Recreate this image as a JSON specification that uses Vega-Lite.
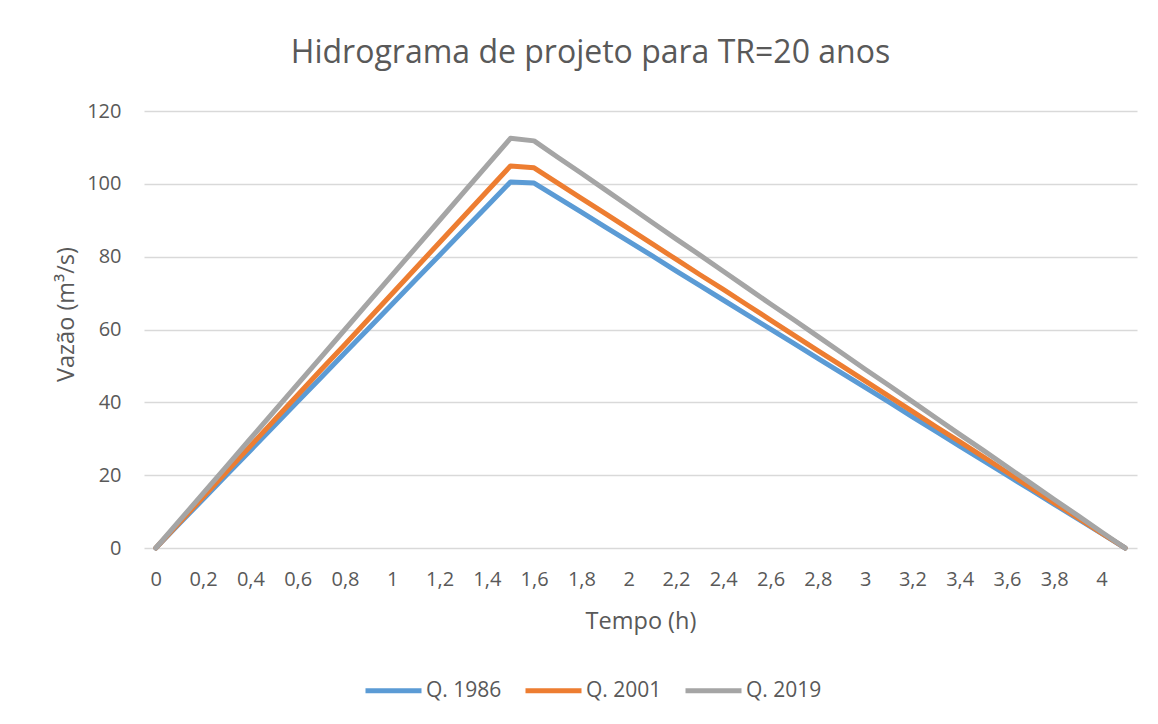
{
  "$schema": "https://vega.github.io/schema/vega-lite/v6.json",
  "width": 993,
  "height": 437,
  "autosize": {"type": "none"},
  "padding": {"left": 144, "top": 111, "right": 21, "bottom": 176},
  "background": "white",
  "config": {"view": {"stroke": null}, "font": "Open Sans"},
  "title": {"text": "Hidrograma de projeto para TR=20 anos", "fontSize": 32, "fontWeight": "normal", "color": "#595959", "offset": 31, "dx": -50, "font": "Open Sans"},
  "data": {"values": [
    {"t": "0", "q1986": 0, "q2001": 0, "q2019": 0},
    {"t": "0,1", "q1986": 6.7, "q2001": 7.0, "q2019": 7.5},
    {"t": "0,2", "q1986": 13.4, "q2001": 14.0, "q2019": 15.0},
    {"t": "0,3", "q1986": 20.1, "q2001": 21.0, "q2019": 22.5},
    {"t": "0,4", "q1986": 26.8, "q2001": 28.0, "q2019": 30.0},
    {"t": "0,5", "q1986": 33.5, "q2001": 35.0, "q2019": 37.5},
    {"t": "0,6", "q1986": 40.2, "q2001": 42.0, "q2019": 45.0},
    {"t": "0,7", "q1986": 46.9, "q2001": 49.0, "q2019": 52.5},
    {"t": "0,8", "q1986": 53.6, "q2001": 55.9, "q2019": 60.0},
    {"t": "0,9", "q1986": 60.3, "q2001": 62.9, "q2019": 67.5},
    {"t": "1", "q1986": 67.0, "q2001": 69.9, "q2019": 75.0},
    {"t": "1,1", "q1986": 73.7, "q2001": 76.9, "q2019": 82.5},
    {"t": "1,2", "q1986": 80.4, "q2001": 83.9, "q2019": 90.0},
    {"t": "1,3", "q1986": 87.1, "q2001": 90.9, "q2019": 97.5},
    {"t": "1,4", "q1986": 93.8, "q2001": 97.9, "q2019": 105.0},
    {"t": "1,5", "q1986": 100.5, "q2001": 104.9, "q2019": 112.5},
    {"t": "1,6", "q1986": 100.2, "q2001": 104.4, "q2019": 111.8},
    {"t": "1,7", "q1986": 96.2, "q2001": 100.2, "q2019": 107.3},
    {"t": "1,8", "q1986": 92.2, "q2001": 96.0, "q2019": 102.9},
    {"t": "1,9", "q1986": 88.2, "q2001": 91.9, "q2019": 98.4},
    {"t": "2", "q1986": 84.2, "q2001": 87.7, "q2019": 93.9},
    {"t": "2,1", "q1986": 80.2, "q2001": 83.5, "q2019": 89.4},
    {"t": "2,2", "q1986": 76.1, "q2001": 79.3, "q2019": 84.9},
    {"t": "2,3", "q1986": 72.1, "q2001": 75.1, "q2019": 80.5},
    {"t": "2,4", "q1986": 68.1, "q2001": 71.0, "q2019": 76.0},
    {"t": "2,5", "q1986": 64.1, "q2001": 66.8, "q2019": 71.5},
    {"t": "2,6", "q1986": 60.1, "q2001": 62.6, "q2019": 67.0},
    {"t": "2,7", "q1986": 56.1, "q2001": 58.4, "q2019": 62.6},
    {"t": "2,8", "q1986": 52.1, "q2001": 54.2, "q2019": 58.1},
    {"t": "2,9", "q1986": 48.1, "q2001": 50.1, "q2019": 53.6},
    {"t": "3", "q1986": 44.1, "q2001": 45.9, "q2019": 49.1},
    {"t": "3,1", "q1986": 40.1, "q2001": 41.7, "q2019": 44.7},
    {"t": "3,2", "q1986": 36.0, "q2001": 37.5, "q2019": 40.2},
    {"t": "3,3", "q1986": 32.0, "q2001": 33.3, "q2019": 35.7},
    {"t": "3,4", "q1986": 28.0, "q2001": 29.2, "q2019": 31.2},
    {"t": "3,5", "q1986": 24.0, "q2001": 25.0, "q2019": 26.8},
    {"t": "3,6", "q1986": 20.0, "q2001": 20.8, "q2019": 22.3},
    {"t": "3,7", "q1986": 16.0, "q2001": 16.6, "q2019": 17.8},
    {"t": "3,8", "q1986": 12.0, "q2001": 12.4, "q2019": 13.3},
    {"t": "3,9", "q1986": 8.0, "q2001": 8.3, "q2019": 8.9},
    {"t": "4", "q1986": 4.0, "q2001": 4.1, "q2019": 4.4},
    {"t": "4,1", "q1986": 0, "q2001": 0, "q2019": 0}
  ]},
  "transform": [{"fold": ["q1986", "q2001", "q2019"], "as": ["serie", "q"]}],
  "mark": {"type": "line", "strokeWidth": 5, "strokeCap": "round", "strokeJoin": "round"},
  "encoding": {
    "x": {
      "field": "t", "type": "ordinal", "sort": null,
      "scale": {"type": "point", "padding": 0.5},
      "axis": {
        "title": "Tempo (h)",
        "values": ["0", "0,2", "0,4", "0,6", "0,8", "1", "1,2", "1,4", "1,6", "1,8", "2", "2,2", "2,4", "2,6", "2,8", "3", "3,2", "3,4", "3,6", "3,8", "4"],
        "labelAngle": 0, "ticks": false, "domain": false, "grid": false,
        "labelFontSize": 20, "labelColor": "#595959", "labelPadding": 21,
        "titleFontSize": 23.5, "titleFontWeight": "normal", "titleColor": "#595959", "titlePadding": 20
      }
    },
    "y": {
      "field": "q", "type": "quantitative",
      "scale": {"domain": [0, 120]},
      "axis": {
        "title": "Vazão (m³/s)",
        "values": [0, 20, 40, 60, 80, 100, 120],
        "ticks": false, "domain": false,
        "gridColor": "#d9d9d9", "gridWidth": 1.5,
        "labelFontSize": 20, "labelColor": "#595959", "labelPadding": 23,
        "titleFontSize": 23.5, "titleFontWeight": "normal", "titleColor": "#595959", "titlePadding": 8, "titleY": 203
      }
    },
    "color": {
      "field": "serie", "type": "nominal",
      "scale": {"domain": ["q1986", "q2001", "q2019"], "range": ["#5b9bd5", "#ed7d31", "#a5a5a5"]},
      "legend": {
        "title": null, "orient": "none", "legendX": 219, "legendY": 549, "direction": "horizontal",
        "symbolType": "stroke", "symbolSize": 3136, "symbolStrokeWidth": 5,
        "labelFontSize": 21, "labelColor": "#595959", "labelOffset": 2, "columnPadding": 13,
        "labelExpr": "'Q. ' + slice(datum.label, 1)"
      }
    }
  }
}
